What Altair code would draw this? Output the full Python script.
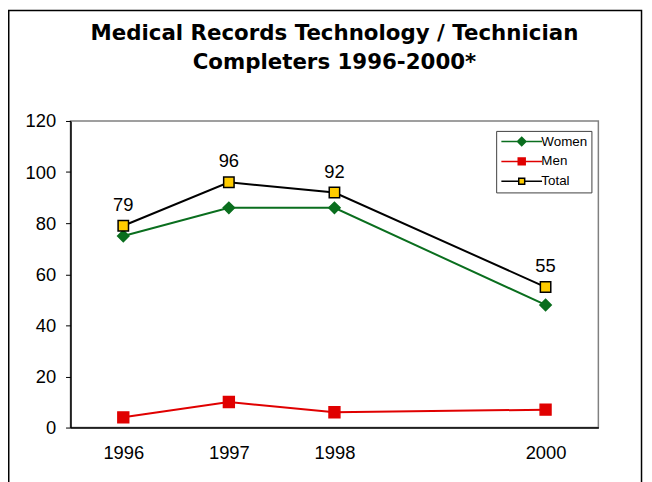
import altair as alt
import pandas as pd

years = ["1996", "1997", "1998", "1999", "2000"]
series = ["Women", "Men", "Total"]
women = [75, 86, 86, None, 48]
men = [4, 10, 6, None, 7]
total = [79, 96, 92, None, 55]

line_colors = ["#0a6e1e", "#e00000", "#000000"]
fill_colors = ["#0a6e1e", "#e00000", "#ffcc00"]
marker_shapes = ["diamond", "square", "square"]
marker_sizes = [130, 110, 90]
legend_shapes = [
    "M-4.1,0H4.1M0,-0.85L0.85,0L0,0.85L-0.85,0Z",
    "M-4.1,0H4.1M-0.7,-0.7H0.7V0.7H-0.7Z",
    "M-4.1,0H-0.6M0.6,0H4.1M-0.6,-0.6H0.6V0.6H-0.6Z",
]

rows = []
for name, vals in zip(series, [women, men, total]):
    for y, v in zip(years, vals):
        if v is not None:
            rows.append({"year": y, "series": name, "value": v})
df = pd.DataFrame(rows)

FONT = "Liberation Sans"
FS = 18.5

x_enc = alt.X(
    "year:O",
    scale=alt.Scale(domain=years),
    axis=alt.Axis(
        title=None, labelAngle=0, ticks=False, labelFontSize=FS, labelFont=FONT,
        labelColor="black", labelPadding=16, domainColor="black", domainWidth=1.5,
        labelExpr="datum.value == '1999' ? '' : datum.value",
    ),
)
y_enc = alt.Y(
    "value:Q",
    scale=alt.Scale(domain=[0, 120], nice=False),
    axis=alt.Axis(
        title=None, values=[0, 20, 40, 60, 80, 100, 120], labelFontSize=FS,
        labelFont=FONT, labelColor="black", tickSize=5, tickColor="black",
        domainColor="black", domainWidth=1.5, grid=False, labelPadding=10,
    ),
)

base = alt.Chart(df)

lines = base.mark_line(strokeWidth=2).encode(
    x=x_enc, y=y_enc,
    color=alt.Color("series:N", scale=alt.Scale(domain=series, range=line_colors), legend=None),
    detail="series:N",
)

points = base.mark_point(strokeWidth=1.5, opacity=1).encode(
    x=x_enc, y=y_enc,
    shape=alt.Shape("series:N", scale=alt.Scale(domain=series, range=marker_shapes), legend=None),
    fill=alt.Fill("series:N", scale=alt.Scale(domain=series, range=fill_colors), legend=None),
    stroke=alt.Stroke("series:N", scale=alt.Scale(domain=series, range=line_colors), legend=None),
    size=alt.Size("series:N", scale=alt.Scale(domain=series, range=marker_sizes), legend=None),
)

labels = base.transform_filter("datum.series == 'Total'").mark_text(
    dy=-15, fontSize=FS, font=FONT, color="black", baseline="alphabetic"
).encode(x=x_enc, y=y_enc, text="value:Q")

legend_layer = base.transform_filter("false").mark_point(size=100, strokeWidth=1.5, opacity=1).encode(
    x=x_enc, y=y_enc,
    shape=alt.Shape("series:N", scale=alt.Scale(domain=series, range=legend_shapes),
                    legend=alt.Legend(title=None)),
    fill=alt.Fill("series:N", scale=alt.Scale(domain=series, range=fill_colors),
                  legend=alt.Legend(title=None)),
    stroke=alt.Stroke("series:N", scale=alt.Scale(domain=series, range=line_colors),
                      legend=alt.Legend(title=None)),
)

frame = alt.Chart(pd.DataFrame({"a": [0]})).mark_rect(
    fill=None, stroke="black", strokeWidth=1.5
).encode(
    x=alt.value(-62.25), x2=alt.value(575.5), y=alt.value(-111.25), y2=alt.value(500)
)

chart = alt.layer(frame, lines, points, labels, legend_layer).resolve_scale(
    shape="independent", fill="independent", stroke="independent",
    color="independent", size="independent",
).properties(
    width=532,
    height=309,
    autosize=alt.AutoSizeParams(type="none"),
    padding={"left": 63, "top": 112, "right": 46, "bottom": 53},
    title=alt.TitleParams(
        ["Medical Records Technology / Technician", "Completers 1996-2000*"],
        fontSize=21.5, font="DejaVu Sans", fontWeight="bold", anchor="middle", color="black",
        offset=-81, lineHeight=29.5, baseline="alphabetic",
    ),
).configure_view(
    stroke="#808080", strokeWidth=1.5
).configure_legend(
    orient="none", legendX=429, legendY=10, strokeColor="#404040", fillColor="white",
    padding=4, labelFontSize=13.5, labelFont=FONT, labelColor="black",
    symbolSize=100, symbolOffset=15, labelOffset=13, rowPadding=5, symbolStrokeWidth=1.5,
)

chart.save("out.html", embed_options={"renderer": "svg", "actions": False})
